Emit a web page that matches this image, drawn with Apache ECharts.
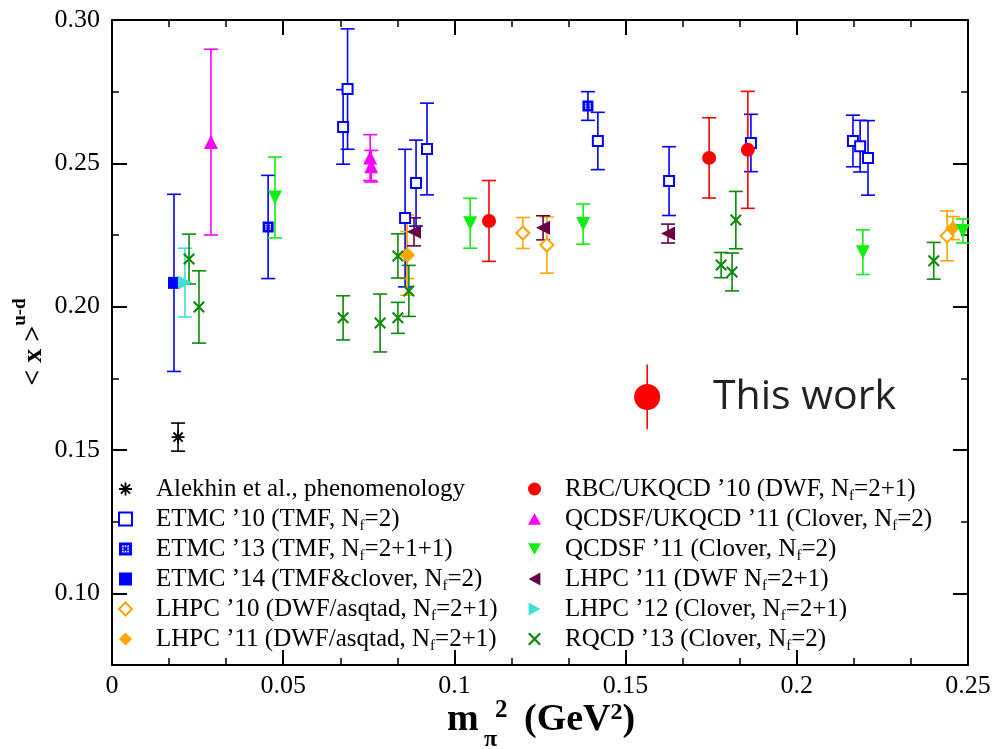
<!DOCTYPE html>
<html><head><meta charset="utf-8">
<script src="https://cdn.jsdelivr.net/npm/echarts@6/dist/echarts.min.js"></script>
<style>html,body{margin:0;padding:0;background:#fff}#c{width:999px;height:749px}</style>
</head><body><div id="c"></div>
<script>
// ---------------- data ----------------
const xTicks = [0, 0.05, 0.10, 0.15, 0.20, 0.25];
const yTickLabels = [0.10, 0.15, 0.20, 0.25, 0.30];
const yMinorTicks = [0.125, 0.175, 0.225, 0.275];

const alekhinX = [0.0193];
const alekhinY = [0.1545];
const alekhinE = [0.0049];

const etmc10X = [0.0675, 0.0688, 0.0856, 0.0888, 0.0920, 0.1419, 0.1627, 0.1866, 0.2164, 0.2185, 0.2208];
const etmc10Y = [0.2627, 0.2759, 0.2309, 0.2431, 0.2550, 0.2578, 0.2438, 0.2571, 0.2578, 0.2560, 0.2519];
const etmc10E = [0.0130, 0.0210, 0.0240, 0.0150, 0.0160, 0.0100, 0.0120, 0.0100, 0.0090, 0.0090, 0.0130];

const etmc13X = [0.0456, 0.1390];
const etmc13Y = [0.2278, 0.2700];
const etmc13E = [0.0180, 0.0050];

const etmc14X = [0.0181];
const etmc14Y = [0.2083];
const etmc14E = [0.0309];

const lhpc10X = [0.0862, 0.1200, 0.1270, 0.2439];
const lhpc10Y = [0.2180, 0.2257, 0.2215, 0.2247];
const lhpc10E = [0.0140, 0.0054, 0.0098, 0.0087];

const lhpc11aX = [0.0862, 0.2456];
const lhpc11aY = [0.2180, 0.2274];
const lhpc11aE = [0.0082, 0.0040];

const rbcX = [0.1101, 0.1744, 0.1857];
const rbcY = [0.2299, 0.2519, 0.2547];
const rbcE = [0.0141, 0.0140, 0.0204];

const qcdsfUkX = [0.0289, 0.0754, 0.0757];
const qcdsfUkY = [0.2574, 0.2520, 0.2490];
const qcdsfUkE = [0.0324, 0.0080, 0.0055];

const qcdsfX = [0.0476, 0.1046, 0.1376, 0.2193, 0.2485];
const qcdsfY = [0.2381, 0.2291, 0.2288, 0.2190, 0.2264];
const qcdsfE = [0.0141, 0.0087, 0.0070, 0.0078, 0.0042];

const lhpc11bX = [0.0882, 0.1259, 0.1624];
const lhpc11bY = [0.2261, 0.2275, 0.2255];
const lhpc11bE = [0.0049, 0.0042, 0.0033];

const lhpc12X = [0.0213];
const lhpc12Y = [0.2084];
const lhpc12E = [0.0120];

const rqcdX = [0.0225, 0.0254, 0.0675, 0.0783, 0.0835, 0.0835, 0.0867, 0.1779, 0.1811, 0.1822, 0.2400];
const rqcdY = [0.2166, 0.1999, 0.1961, 0.1943, 0.1961, 0.2177, 0.2055, 0.2145, 0.2121, 0.2302, 0.2160];
const rqcdE = [0.0087, 0.0126, 0.0077, 0.0101, 0.0054, 0.0077, 0.0089, 0.0044, 0.0066, 0.0100, 0.0064];

const thisWorkX = [0.1563];
const thisWorkY = [0.1685];
const thisWorkE = [0.0113];

const names = {
  alekhin: 'Alekhin et al., phenomenology',
  etmc10: 'ETMC \u201910 (TMF, Nf=2)',
  etmc13: 'ETMC \u201913 (TMF, Nf=2+1+1)',
  etmc14: 'ETMC \u201914 (TMF&clover, Nf=2)',
  lhpc10: 'LHPC \u201910 (DWF/asqtad, Nf=2+1)',
  lhpc11a: 'LHPC \u201911 (DWF/asqtad, Nf=2+1)',
  rbc: 'RBC/UKQCD \u201910 (DWF, Nf=2+1)',
  qcdsfUk: 'QCDSF/UKQCD \u201911 (Clover, Nf=2)',
  qcdsf: 'QCDSF \u201911 (Clover, Nf=2)',
  lhpc11b: 'LHPC \u201911 (DWF Nf=2+1)',
  lhpc12: 'LHPC \u201912 (Clover, Nf=2+1)',
  rqcd: 'RQCD \u201913 (Clover, Nf=2)',
  thisWork: 'This work'
};

// ---------------- symbols ----------------
const asteriskPath = 'path://M-1.4,-10L1.4,-10L1.4,10L-1.4,10Z M-10,-1.4L10,-1.4L10,1.4L-10,1.4Z M-6.08,-8.06L8.06,6.08L6.08,8.06L-8.06,-6.08Z M-8.06,6.08L6.08,-8.06L8.06,-6.08L-6.08,8.06Z';
const crossPath = 'path://M-6.87,-9.13L9.13,6.87L6.87,9.13L-9.13,-6.87Z M-9.13,6.87L6.87,-9.13L9.13,-6.87L-6.87,9.13Z';
const patternSquarePath = 'path://M0,0L10,0L10,10L0,10Z M2.4,2.4L2.4,3.6L3.6,3.6L3.6,2.4Z M4.4,2.4L4.4,3.6L5.6,3.6L5.6,2.4Z M6.4,2.4L6.4,3.6L7.6,3.6L7.6,2.4Z M2.4,4.4L2.4,5.6L3.6,5.6L3.6,4.4Z M6.4,4.4L6.4,5.6L7.6,5.6L7.6,4.4Z M2.4,6.4L2.4,7.6L3.6,7.6L3.6,6.4Z M4.4,6.4L4.4,7.6L5.6,7.6L5.6,6.4Z M6.4,6.4L6.4,7.6L7.6,7.6L7.6,6.4Z';
const triUp = 'path://M5,0L10,9L0,9Z';
const triDown = 'path://M0,0L10,0L5,9Z';
const triLeft = 'path://M9,0L9,10L0,5Z';
const triRight = 'path://M0,0L9,5L0,10Z';

const series = [];
function addSet(name, xs, ys, es, color, symbol, size, cap) {
  const capHalf = cap === undefined ? 7 : cap;
  series.push({
    type: 'custom', name: name + ' err', silent: true,
    xAxisIndex: 0, yAxisIndex: 0,
    data: xs.map((x, i) => [x, ys[i] - es[i], ys[i] + es[i]]),
    encode: { x: 0, y: [1, 2] },
    renderItem: function (params, api) {
      const lo = api.coord([api.value(0), api.value(1)]);
      const hi = api.coord([api.value(0), api.value(2)]);
      const st = { stroke: color, lineWidth: 1.6 };
      const ch = [{ type: 'line', shape: { x1: lo[0], y1: lo[1], x2: hi[0], y2: hi[1] }, style: st }];
      if (capHalf > 0) {
        ch.push({ type: 'line', shape: { x1: lo[0] - capHalf, y1: lo[1], x2: lo[0] + capHalf, y2: lo[1] }, style: st });
        ch.push({ type: 'line', shape: { x1: hi[0] - capHalf, y1: hi[1], x2: hi[0] + capHalf, y2: hi[1] }, style: st });
      }
      return { type: 'group', children: ch };
    }
  });
  series.push({
    type: 'scatter', name: name, silent: true,
    xAxisIndex: 0, yAxisIndex: 0,
    data: xs.map((x, i) => [x, ys[i]]),
    symbol: symbol, symbolSize: size,
    itemStyle: { color: color, opacity: 1 },
    emphasis: { disabled: true }
  });
}

const cBlue = '#0000ff', cOrange = '#ffa500', cRed = '#ff0000', cMag = '#ff00ff',
      cGreen = '#11ee11', cPurple = '#670045', cTurq = '#40e0d0', cDkGreen = '#0a8a0a';

addSet(names.alekhin, alekhinX, alekhinY, alekhinE, '#000000', asteriskPath, 13);
addSet(names.etmc10, etmc10X, etmc10Y, etmc10E, cBlue, 'emptyRect', 10);
addSet(names.etmc13, etmc13X, etmc13Y, etmc13E, cBlue, patternSquarePath, 11);
addSet(names.etmc14, etmc14X, etmc14Y, etmc14E, cBlue, 'rect', 12);
addSet(names.lhpc10, lhpc10X, lhpc10Y, lhpc10E, cOrange, 'emptyDiamond', 13);
addSet(names.lhpc11a, lhpc11aX, lhpc11aY, lhpc11aE, cOrange, 'diamond', 14);
addSet(names.rbc, rbcX, rbcY, rbcE, cRed, 'circle', 14);
addSet(names.qcdsfUk, qcdsfUkX, qcdsfUkY, qcdsfUkE, cMag, triUp, 14);
addSet(names.qcdsf, qcdsfX, qcdsfY, qcdsfE, cGreen, triDown, 14);
addSet(names.lhpc11b, lhpc11bX, lhpc11bY, lhpc11bE, cPurple, triLeft, 14);
addSet(names.lhpc12, lhpc12X, lhpc12Y, lhpc12E, cTurq, triRight, 14);
addSet(names.rqcd, rqcdX, rqcdY, rqcdE, cDkGreen, crossPath, 12);
addSet(names.thisWork, thisWorkX, thisWorkY, thisWorkE, cRed, 'circle', 26, 0);

const serif = '"Liberation Serif", "Times New Roman", serif';
const legendText = {
  fontFamily: serif, fontSize: 25, color: '#000', lineHeight: 30,
  rich: {
    pad: { width: 19, fontSize: 25, lineHeight: 30 },
    sub: { fontFamily: serif, fontSize: 15, color: '#000', lineHeight: 18, verticalAlign: 'bottom' }
  }
};
const fmt = n => '{pad| }' + n.replace('Nf', 'N{sub|f}');
const legendBase = {
  orient: 'vertical', top: 474, itemGap: 0, itemWidth: 13, itemHeight: 13,
  padding: 0, selectedMode: false, textStyle: legendText, formatter: fmt
};

const tickStyle = { color: '#000', width: 2 };
const axisLine = { show: true, lineStyle: { color: '#000', width: 2 } };
function xAx(pos, labels) {
  return {
    type: 'value', position: pos, min: xTicks[0], max: xTicks[xTicks.length - 1], interval: 0.05,
    axisLine: axisLine,
    axisTick: { show: true, inside: true, length: 15, lineStyle: tickStyle },
    minorTick: { show: true, splitNumber: 3, length: 7, lineStyle: { color: '#000', width: 1.5 } },
    splitLine: { show: false }, minorSplitLine: { show: false },
    axisLabel: labels ? { show: true, fontFamily: serif, fontSize: 26, color: '#000', margin: 8 } : { show: false }
  };
}
function yAx(pos, major, labels) {
  return {
    type: 'value', position: pos, min: 0.075, max: 0.30,
    axisLine: major ? axisLine : { show: false },
    axisTick: { show: true, inside: true, length: major ? 15 : 7,
      customValues: major ? yTickLabels : yMinorTicks, lineStyle: major ? tickStyle : { color: '#000', width: 1.5 } },
    splitLine: { show: false },
    axisLabel: labels ? { show: true, customValues: yTickLabels, formatter: v => v.toFixed(2),
      fontFamily: serif, fontSize: 26, color: '#000', margin: 12 } : { show: false }
  };
}

const option = {
  animation: false,
  backgroundColor: '#fff',
  grid: { left: 112, right: 31, top: 20, bottom: 84, containLabel: false },
  xAxis: [xAx('bottom', true), xAx('top', false)],
  yAxis: [yAx('left', true, true), yAx('left', false, false), yAx('right', true, false), yAx('right', false, false)],
  legend: [
    Object.assign({}, legendBase, { left: 118, data: [names.alekhin, names.etmc10, names.etmc13, names.etmc14, names.lhpc10, names.lhpc11a] }),
    Object.assign({}, legendBase, { left: 528, data: [names.rbc, names.qcdsfUk, names.qcdsf, names.lhpc11b, names.lhpc12, names.rqcd] })
  ],
  series: series,
  graphic: [
    { type: 'text', x: 34, y: 342, rotation: Math.PI / 2, silent: true,
      style: { text: '{b|< x >}{s|u-d}', align: 'center', verticalAlign: 'middle',
        rich: { b: { fontFamily: serif, fontWeight: 'bold', fontSize: 28, lineHeight: 46, color: '#000' },
                s: { fontFamily: serif, fontWeight: 'bold', fontSize: 19, lineHeight: 20, verticalAlign: 'top', color: '#000' } } } },
    { type: 'text', x: 447, y: 720, silent: true,
      style: { text: 'm', font: 'bold 38px "Liberation Serif"', fill: '#000', align: 'left', verticalAlign: 'middle' } },
    { type: 'text', x: 495, y: 711, silent: true,
      style: { text: '2', font: 'bold 25px "Liberation Serif"', fill: '#000', align: 'left', verticalAlign: 'middle' } },
    { type: 'text', x: 484, y: 740, silent: true,
      style: { text: '\u03c0', font: 'bold 24px "Liberation Serif"', fill: '#000', align: 'left', verticalAlign: 'middle' } },
    { type: 'text', x: 524, y: 720, silent: true,
      style: { text: '(GeV{s|2})', font: 'bold 38px "Liberation Serif"', fill: '#000', align: 'left', verticalAlign: 'middle',
        rich: { s: { fontFamily: serif, fontWeight: 'bold', fontSize: 24, verticalAlign: 'top', lineHeight: 30 } } } },
    { type: 'text', x: 713, y: 397, silent: true,
      style: { text: 'This work', font: '41px "Open Sans"', fill: '#222', align: 'left', verticalAlign: 'middle' } }
  ]
};
echarts.init(document.getElementById('c'), null, { renderer: 'canvas' }).setOption(option);
</script></body></html>
